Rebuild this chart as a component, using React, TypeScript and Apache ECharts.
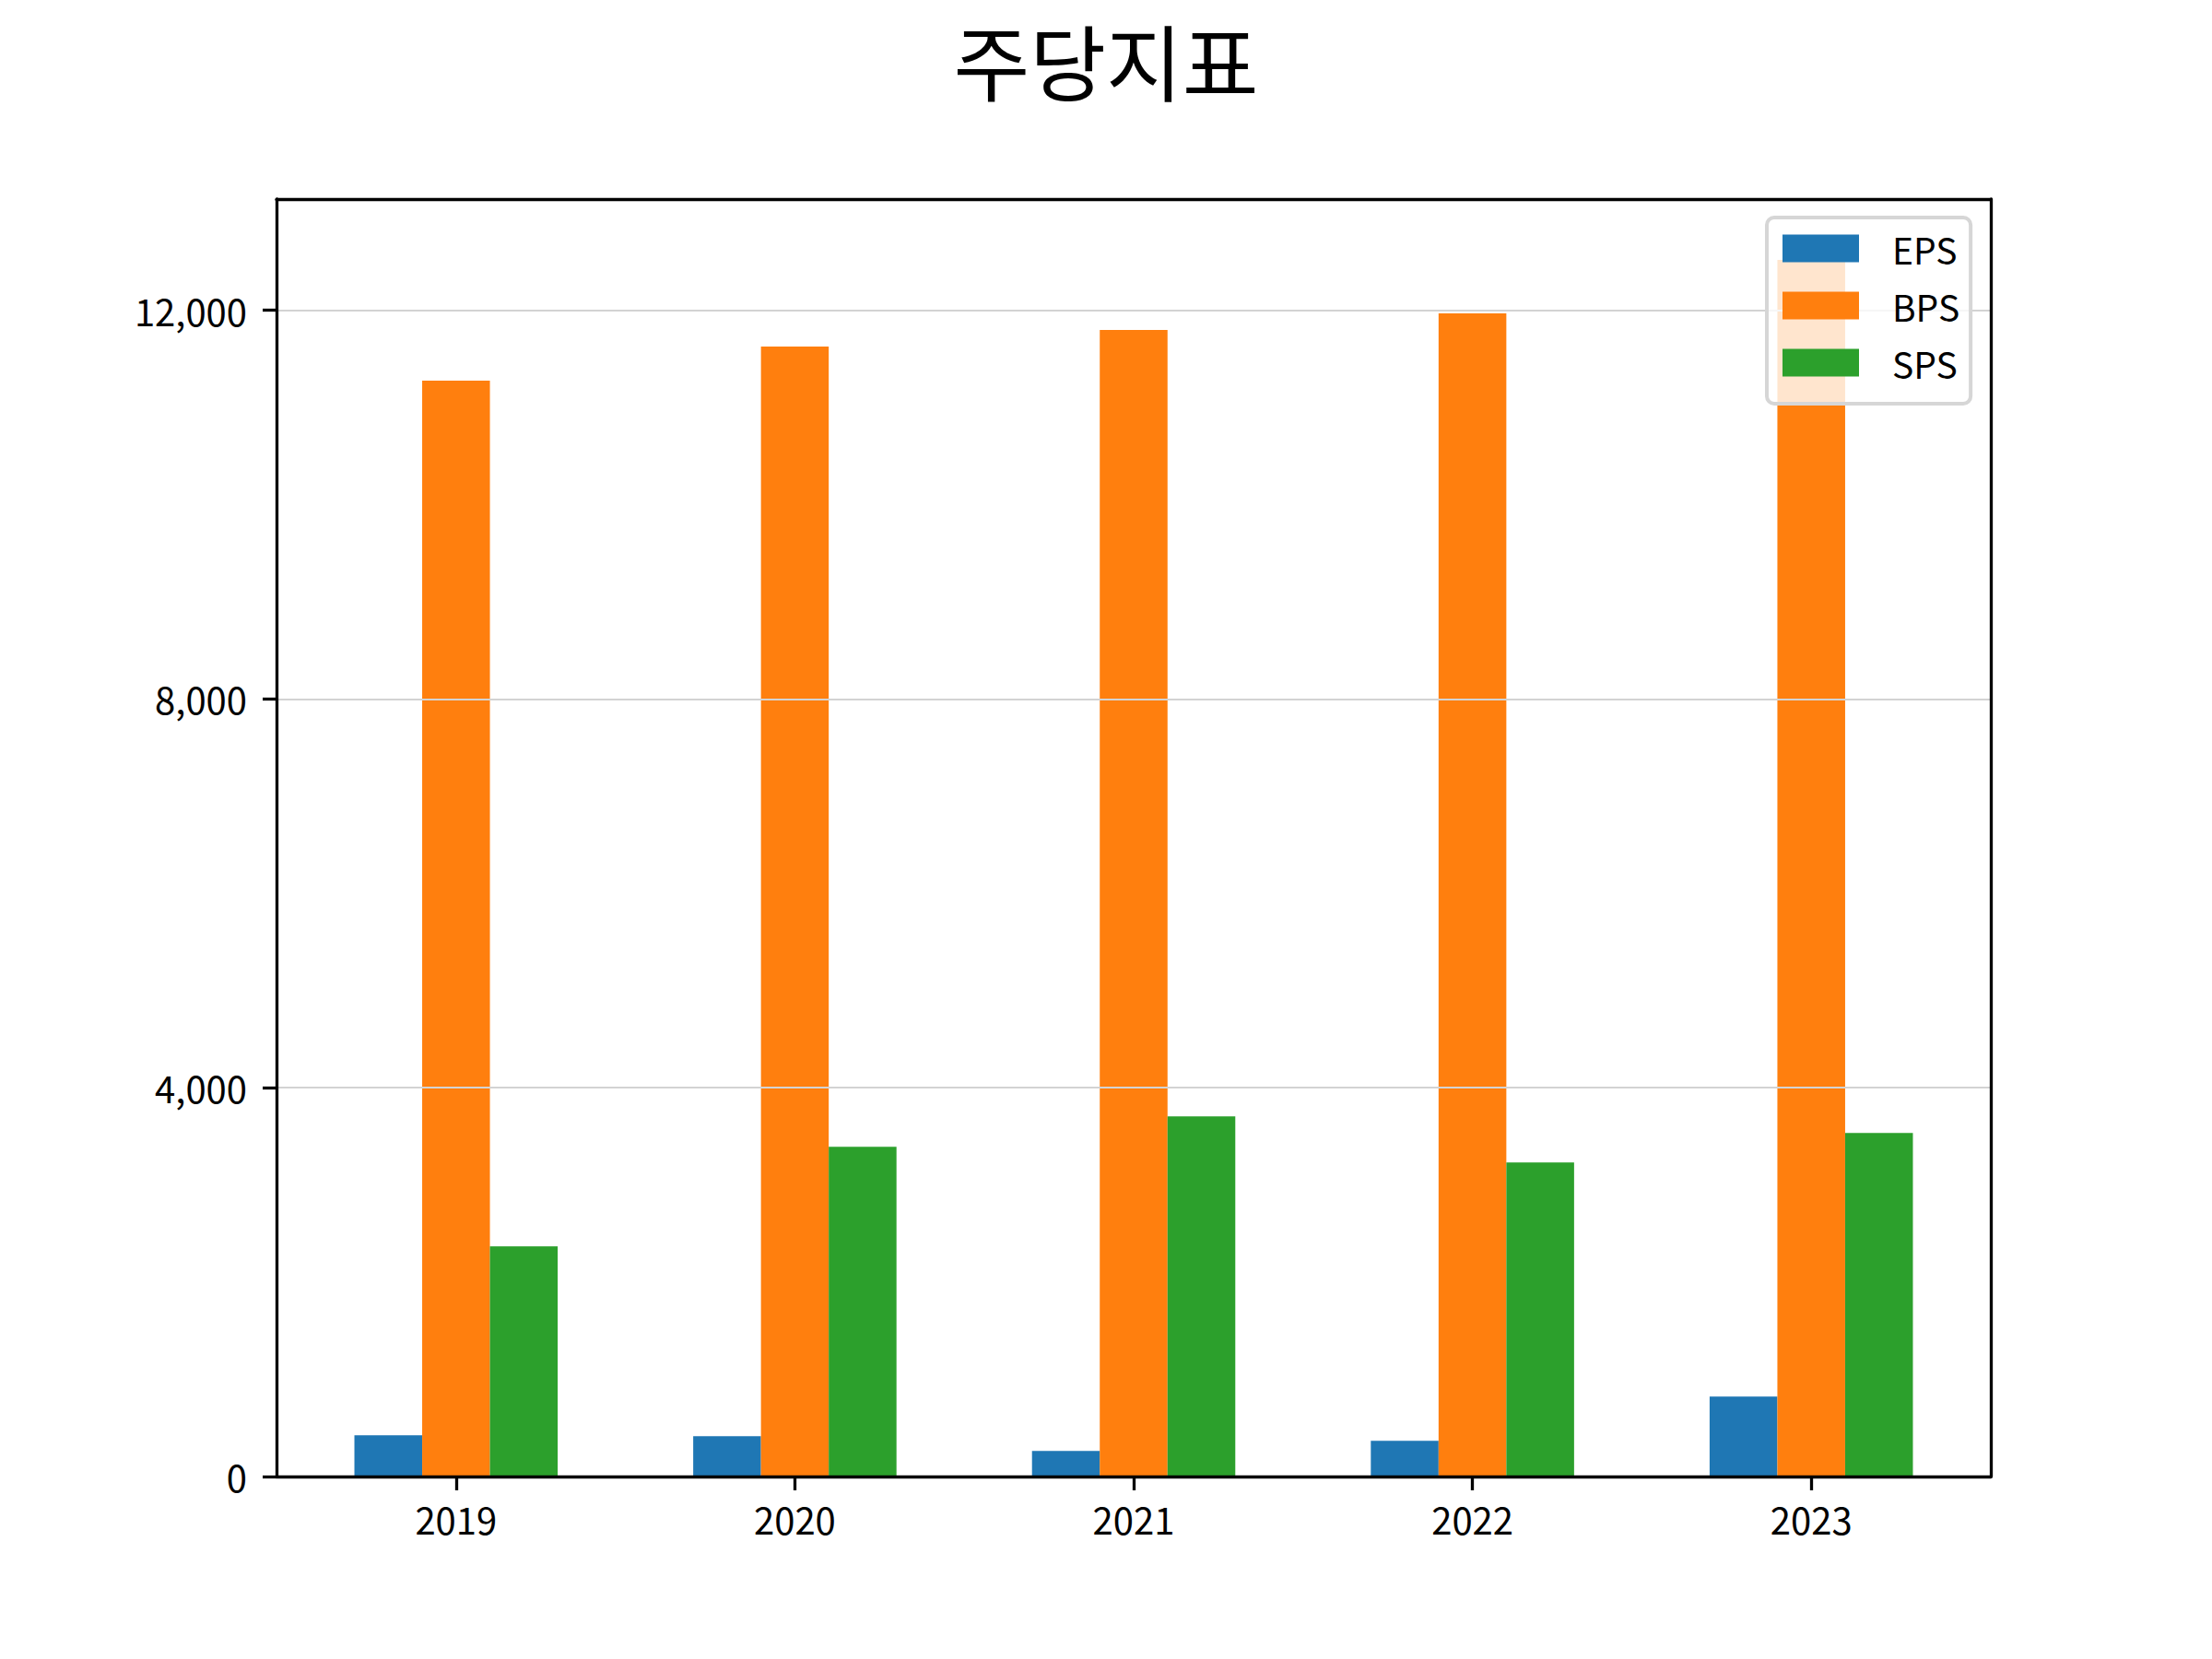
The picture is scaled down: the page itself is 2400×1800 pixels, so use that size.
import React, { useEffect, useRef } from "react";
import * as echarts from "echarts";

const years = ["2019", "2020", "2021", "2022", "2023"];
const eps = [425, 414, 264, 367, 822];
const bps = [11276, 11627, 11798, 11968, 12518];
const sps = [2369, 3393, 3706, 3232, 3534];
const yTicks = [0, 4000, 8000, 12000];
const yMax = 13144;
const title = "주당지표";
const seriesNames = ["EPS", "BPS", "SPS"];
const colors = ["#1f77b4", "#ff7f0e", "#2ca02c"];

const FONT = "'Noto Sans CJK KR', 'Noto Sans', sans-serif";

export default function App() {
  const ref = useRef<HTMLDivElement>(null);
  useEffect(() => {
    document.body.style.margin = "0";
    if (!ref.current) return;
    const chart = echarts.init(ref.current, undefined, { renderer: "svg" });
    const frameLine = { show: true, onZero: false, lineStyle: { color: "#000", width: 3.3 } };
    const values = [eps, bps, sps];
    chart.setOption({
      animation: false,
      backgroundColor: "#fff",
      title: {
        text: title,
        left: "center",
        top: 14,
        textStyle: { fontSize: 90, fontWeight: "normal", color: "#000", fontFamily: FONT },
      },
      legend: {
        orient: "vertical",
        left: 1917,
        top: 236,
        z: 20,
        icon: "rect",
        itemWidth: 83,
        itemHeight: 30,
        itemGap: 23,
        padding: [14, 12, 25, 17],
        backgroundColor: "rgba(255,255,255,0.8)",
        borderColor: "#d6d6d6",
        borderWidth: 4,
        borderRadius: 8,
        data: seriesNames,
        textStyle: {
          fontSize: 39,
          color: "#000",
          fontFamily: FONT,
          padding: [0, 0, 0, 31],
        },
      },
      grid: [
        { left: 300, right: 240, top: 216, bottom: 198 },
        { left: 311, right: 251, top: 216, bottom: 198 },
      ],
      xAxis: [
        {
          gridIndex: 0, type: "value", min: 0, max: 1, position: "bottom", z: 10,
          axisLine: frameLine, axisTick: { show: false }, axisLabel: { show: false }, splitLine: { show: false },
        },
        {
          gridIndex: 0, type: "value", min: 0, max: 1, position: "top", z: 10,
          axisLine: frameLine, axisTick: { show: false }, axisLabel: { show: false }, splitLine: { show: false },
        },
        {
          gridIndex: 1, type: "category", data: years, position: "bottom",
          axisLine: { show: false },
          axisTick: { show: true, alignWithLabel: true, length: 15, lineStyle: { color: "#000", width: 3.3 } },
          axisLabel: { fontSize: 40, color: "#000", fontFamily: FONT, margin: 26 },
          splitLine: { show: false },
        },
      ],
      yAxis: [
        {
          gridIndex: 0, type: "value", min: 0, max: yMax, interval: 4000, position: "left", z: 10,
          axisLine: frameLine,
          axisTick: { show: true, length: 15, customValues: yTicks, lineStyle: { color: "#000", width: 3.3 } },
          axisLabel: {
            fontSize: 40, color: "#000", fontFamily: FONT, margin: 32, customValues: yTicks,
            formatter: (v: number) => v.toLocaleString("en-US"),
          },
          splitLine: { show: true, lineStyle: { color: "#d3d3d3", width: 2 } },
        },
        {
          gridIndex: 0, type: "value", min: 0, max: yMax, position: "right", z: 10,
          axisLine: frameLine, axisTick: { show: false }, axisLabel: { show: false }, splitLine: { show: false },
        },
        {
          gridIndex: 1, type: "value", min: 0, max: yMax, show: false,
        },
      ],
      series: seriesNames.map((name, i) => ({
        name,
        type: "bar",
        xAxisIndex: 2,
        yAxisIndex: 2,
        data: values[i],
        barWidth: "20%",
        barGap: "0%",
        itemStyle: { color: colors[i] },
      })),
    });
    return () => chart.dispose();
  }, []);
  return <div ref={ref} style={{ width: 2400, height: 1800 }} />;
}
